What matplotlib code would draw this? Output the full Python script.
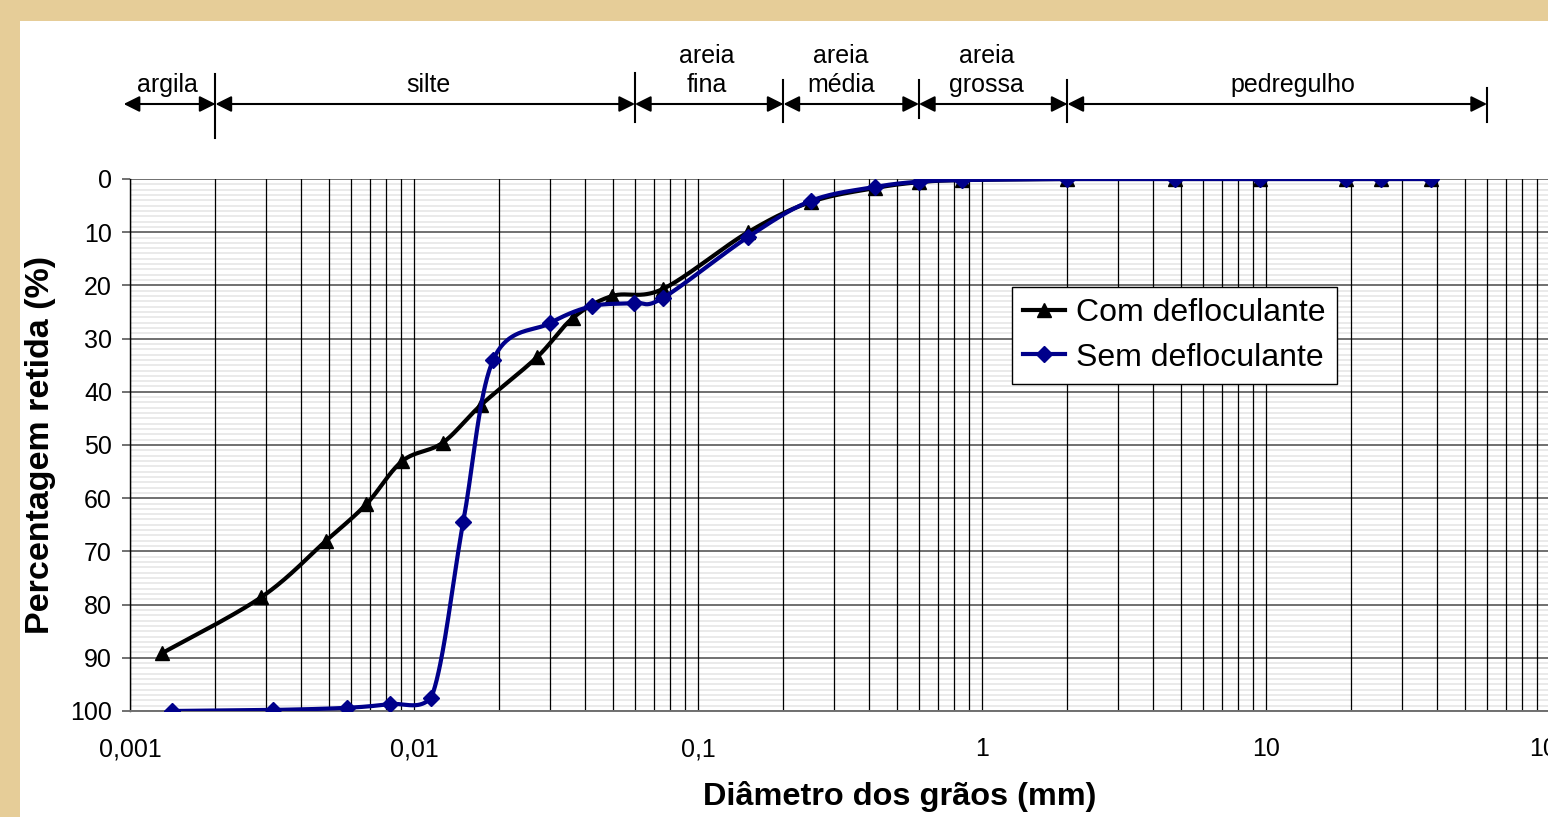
import numpy as np
import matplotlib.pyplot as plt
import matplotlib.transforms as mtransforms
from matplotlib.patches import Rectangle
from matplotlib.ticker import FixedLocator, LogLocator, MultipleLocator, NullFormatter

plt.rcParams['font.family'] = ['Liberation Sans', 'DejaVu Sans']

# curva granulometrica: diametro (mm) x percentagem retida (%)
com_d = [0.0013, 0.0029, 0.0049, 0.0068, 0.0091, 0.0126, 0.0172, 0.0271, 0.0363,
         0.0498, 0.075, 0.15, 0.25, 0.42, 0.6, 0.85, 2.0, 4.8, 9.5, 19.1, 25.4, 38.1]
com_p = [89.1, 78.6, 68.0, 61.1, 53.0, 49.6, 42.5, 33.5, 26.1,
         22.0, 20.7, 10.0, 4.3, 1.7, 0.6, 0.2, 0, 0, 0, 0, 0, 0]
sem_d = [0.0014, 0.0032, 0.0058, 0.0082, 0.0115, 0.0149, 0.019, 0.0301, 0.0424,
         0.0596, 0.075, 0.15, 0.25, 0.42, 0.6, 0.85, 2.0, 4.8, 9.5, 19.1, 25.4, 38.1]
sem_p = [100, 99.8, 99.4, 98.7, 97.5, 64.5, 34.0, 27.1, 23.9,
         23.3, 22.4, 10.9, 4.1, 1.5, 0.5, 0.2, 0, 0, 0, 0, 0, 0]

# classificacao (limites em mm) e posicao dos nomes (mm)
limites = [0.00095, 0.002, 0.06, 0.2, 0.6, 2.0, 60]
classes = ['argila', 'silte', 'areia\nfina', 'areia\nmédia', 'areia\ngrossa', 'pedregulho']
classes_x = [0.00136, 0.0112, 0.107, 0.319, 1.04, 12.4]

xticks = [0.001, 0.01, 0.1, 1, 10, 100]
xlabels = ['0,001', '0,01', '0,1', '1', '10', '100']
yticks = list(range(0, 101, 10))


def smooth(xs, ys, n=40):
    """Excel-like smoothed line (Bezier in log-x space)."""
    lx = np.log10(np.asarray(xs, float))
    y = np.asarray(ys, float)
    px = np.r_[lx[0], lx, lx[-1]]
    py = np.r_[y[0], y, y[-1]]
    t = np.linspace(0, 1, n)[:, None]
    out = []
    for i in range(1, len(px) - 2):
        p0 = np.array([px[i - 1], py[i - 1]])
        p1 = np.array([px[i], py[i]])
        p2 = np.array([px[i + 1], py[i + 1]])
        p3 = np.array([px[i + 2], py[i + 2]])
        b1 = p1 + (p2 - p0) / 6
        b2 = p2 - (p3 - p1) / 6
        b1[1] = np.clip(b1[1], 0, 100)
        b2[1] = np.clip(b2[1], 0, 100)
        seg = ((1 - t) ** 3) * p1 + 3 * ((1 - t) ** 2) * t * b1 + 3 * (1 - t) * t ** 2 * b2 + t ** 3 * p2
        out.append(seg)
    out = np.vstack(out)
    return 10 ** out[:, 0], out[:, 1]


W, H = 1548, 817
fig = plt.figure(figsize=(W / 100, H / 100), dpi=100, facecolor='#e6cd98')
fig.patches.append(Rectangle((20 / W, 0), 1, 1 - 21 / H, transform=fig.transFigure,
                             facecolor='white', edgecolor='none', zorder=-10))

def fy(py):
    return 1 - py / H

ax = fig.add_axes([130 / W, fy(711), 1420 / W, (711 - 179) / H])
ax.set_facecolor('white')
ax.set_xscale('log')
ax.set_xlim(0.001, 100)
ax.set_ylim(100, 0)

ax.xaxis.set_major_locator(FixedLocator(xticks))
ax.set_xticklabels(xlabels)
ax.xaxis.set_minor_locator(LogLocator(base=10, subs=np.arange(2, 10)))
ax.xaxis.set_minor_formatter(NullFormatter())
ax.set_yticks(yticks)
ax.yaxis.set_minor_locator(MultipleLocator(1))

ax.grid(which='minor', axis='y', color='#e6e6e6', lw=1.2)
ax.grid(which='major', axis='y', color='#707070', lw=1.4)
ax.grid(which='both', axis='x', color='black', lw=0.9)
ax.set_axisbelow(True)
ax.xaxis.set_zorder(0.7)

for s in ['top', 'right']:
    ax.spines[s].set_visible(False)
ax.spines['left'].set_color('black')
ax.spines['left'].set_linewidth(1.0)
ax.spines['bottom'].set_color('#707070')
ax.spines['bottom'].set_linewidth(1.4)

ax.tick_params(axis='x', which='both', length=0, pad=19, labelsize=18)
ax.tick_params(axis='y', which='major', length=6, width=1.4, color='#707070',
               pad=7, labelsize=18)
ax.tick_params(axis='y', which='minor', length=0)

xs, ys = smooth(com_d, com_p)
ax.plot(xs, ys, color='black', lw=3, zorder=3)
ax.plot(com_d, com_p, ls='none', marker='^', ms=10, color='black', zorder=3)
xs, ys = smooth(sem_d, sem_p)
ax.plot(xs, ys, color='#00008b', lw=3, zorder=4)
ax.plot(sem_d, sem_p, ls='none', marker='D', ms=8, color='#00008b', zorder=4)

# legend
h1, = ax.plot([], [], color='black', lw=3, marker='^', ms=10)
h2, = ax.plot([], [], color='#00008b', lw=3, marker='D', ms=8)
leg = fig.legend([h1, h2], ['Com defloculante', 'Sem defloculante'], loc='upper left',
                 bbox_to_anchor=(1012 / W, fy(287)), fontsize=23, frameon=True,
                 fancybox=False, edgecolor='black', framealpha=1, borderpad=0.35,
                 handlelength=1.3, handletextpad=0.35, labelspacing=0.45,
                 borderaxespad=0, numpoints=1)
leg.get_frame().set_linewidth(1.0)

fig.text(41 / W, fy(445), 'Percentagem retida (%)', rotation=90, ha='center',
         va='center', fontsize=24.5, fontweight='bold')
fig.text(900 / W, fy(797), 'Diâmetro dos grãos (mm)', ha='center', va='center',
         fontsize=23.4, fontweight='bold')

# classification arrows above the chart
trans = mtransforms.blended_transform_factory(ax.transData, fig.transFigure)
ya = fy(104)
for i, nome in enumerate(classes):
    a, b = limites[i], limites[i + 1]
    ax.annotate('', xy=(b, ya), xytext=(a, ya), xycoords=trans, textcoords=trans,
                annotation_clip=False,
                arrowprops=dict(arrowstyle='<|-|>', color='black', lw=1.5,
                                shrinkA=0, shrinkB=0, mutation_scale=24))
    ax.text(classes_x[i], fy(92), nome, transform=trans, ha='center', va='baseline',
            fontsize=18, linespacing=1.25, clip_on=False)

barras = [(74, 138), (73, 122), (80, 122), (80, 118), (80, 122), (88, 122)]
for lim, (t0, t1) in zip(limites[1:], barras):
    ax.plot([lim, lim], [fy(t0), fy(t1)], color='black', lw=1.5, transform=trans,
            clip_on=False)

fig.savefig('out.png', dpi=100, facecolor=fig.get_facecolor())
